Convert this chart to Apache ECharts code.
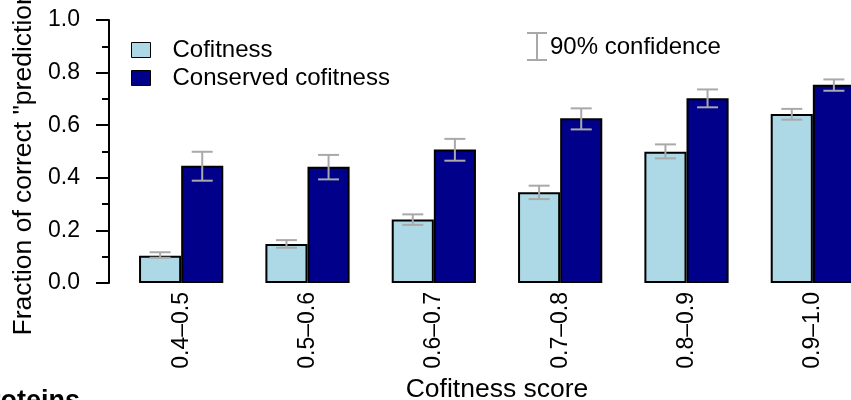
<!DOCTYPE html>
<html>
<head>
<meta charset="utf-8">
<script src="https://cdn.jsdelivr.net/npm/echarts@6/dist/echarts.min.js"></script>
<style>
  html, body { margin: 0; padding: 0; background: #fff; }
  #chart { width: 851px; height: 400px; }
</style>
</head>
<body>
<div id="chart"></div>
<script>
const categories = ["0.4–0.5", "0.5–0.6", "0.6–0.7", "0.7–0.8", "0.8–0.9", "0.9–1.0"];
const cofitness = [0.104, 0.148, 0.241, 0.345, 0.499, 0.643];
const cofitnessLow = [0.096, 0.134, 0.221, 0.319, 0.474, 0.621];
const cofitnessHigh = [0.117, 0.163, 0.261, 0.370, 0.527, 0.662];
const conserved = [0.446, 0.442, 0.508, 0.626, 0.702, 0.754];
const conservedLow = [0.389, 0.394, 0.465, 0.584, 0.668, 0.731];
const conservedHigh = [0.499, 0.487, 0.548, 0.664, 0.736, 0.774];

const FONT = "Liberation Sans, Arial, Helvetica, sans-serif";

function errorData(low, high) {
  return low.map((l, i) => [i, l, high[i]]);
}

// draws the grey whiskers, shifted to the left or right bar of each group
function errorBar(side) {
  return function (params, api) {
    const i = api.value(0);
    const bottom = api.coord([i, api.value(1)]);
    const top = api.coord([i, api.value(2)]);
    const cw = api.size([1, 0])[0];
    const x = bottom[0] + side * cw / 6;
    const half = 10.5;
    const style = { stroke: "#a9a9a9", lineWidth: 2 };
    return {
      type: "group",
      children: [
        { type: "line", shape: { x1: x, y1: top[1], x2: x, y2: bottom[1] }, style: style },
        { type: "line", shape: { x1: x - half, y1: top[1], x2: x + half, y2: top[1] }, style: style },
        { type: "line", shape: { x1: x - half, y1: bottom[1], x2: x + half, y2: bottom[1] }, style: style },
      ],
    };
  };
}

let chart = echarts.init(document.getElementById("chart"));
chart.setOption({
  animation: false,
  textStyle: { fontFamily: FONT },
  color: ["#ADD8E6", "#00008B"],
  grid: { left: 118, right: -25, top: 20, bottom: 117, outerBoundsMode: "none", containLabel: false },
  legend: {
    orient: "vertical",
    left: 126,
    top: 33,
    icon: "rect",
    itemWidth: 19,
    itemHeight: 15,
    itemGap: 4,
    data: ["Cofitness", "Conserved cofitness"],
    itemStyle: { borderColor: "#000", borderWidth: 1 },
    textStyle: { fontSize: 24, color: "#000", fontFamily: FONT, padding: [0, 0, 0, 17] },
  },
  xAxis: {
    type: "category",
    data: categories,
    name: "Cofitness score",
    nameLocation: "middle",
    nameGap: 89,
    nameTextStyle: { fontSize: 26.5, color: "#000", fontFamily: FONT },
    axisLine: { show: false },
    axisTick: { show: false },
    axisLabel: { rotate: 90, fontSize: 23, color: "#000", margin: 9, fontFamily: FONT },
  },
  yAxis: {
    type: "value",
    min: 0,
    max: 1,
    interval: 0.2,
    offset: 9,
    name: "Fraction of correct \"predictions\"",
    nameLocation: "middle",
    nameGap: 72,
    nameTextStyle: { fontSize: 26.5, color: "#000", fontFamily: FONT },
    axisLine: { show: true, lineStyle: { color: "#000", width: 2 } },
    axisTick: { show: true, length: 13, lineStyle: { color: "#000", width: 2 } },
    minorTick: { show: true, splitNumber: 2, length: 7, lineStyle: { color: "#000", width: 2 } },
    splitLine: { show: false },
    axisLabel: {
      fontSize: 23,
      color: "#000",
      margin: 29,
      fontFamily: FONT,
      formatter: (v) => v.toFixed(1),
    },
  },
  graphic: [
    { type: "line", shape: { x1: 537, y1: 33, x2: 537, y2: 60 }, style: { stroke: "#a9a9a9", lineWidth: 2 } },
    { type: "line", shape: { x1: 527, y1: 33, x2: 547, y2: 33 }, style: { stroke: "#a9a9a9", lineWidth: 2 } },
    { type: "line", shape: { x1: 527, y1: 60, x2: 547, y2: 60 }, style: { stroke: "#a9a9a9", lineWidth: 2 } },
    {
      type: "text", left: 550, top: 35,
      style: { text: "90% confidence", fontSize: 24, fill: "#000", fontFamily: FONT },
    },
    {
      type: "text", right: 771, top: 388,
      style: { text: "Proteins", fontSize: 27, fontWeight: "bold", fill: "#000", fontFamily: FONT },
    },
  ],
  series: [
    {
      name: "Cofitness",
      type: "bar",
      barGap: "0%",
      barCategoryGap: "33.33%",
      itemStyle: { borderColor: "#000", borderWidth: 2 },
      data: cofitness,
    },
    {
      name: "Conserved cofitness",
      type: "bar",
      barGap: "0%",
      barCategoryGap: "33.33%",
      itemStyle: { borderColor: "#000", borderWidth: 2 },
      data: conserved,
    },
    {
      name: "cofitnessCI",
      type: "custom",
      z: 5,
      renderItem: errorBar(-1),
      data: errorData(cofitnessLow, cofitnessHigh),
    },
    {
      name: "conservedCI",
      type: "custom",
      z: 5,
      renderItem: errorBar(1),
      data: errorData(conservedLow, conservedHigh),
    },
  ],
});
</script>
</body>
</html>
